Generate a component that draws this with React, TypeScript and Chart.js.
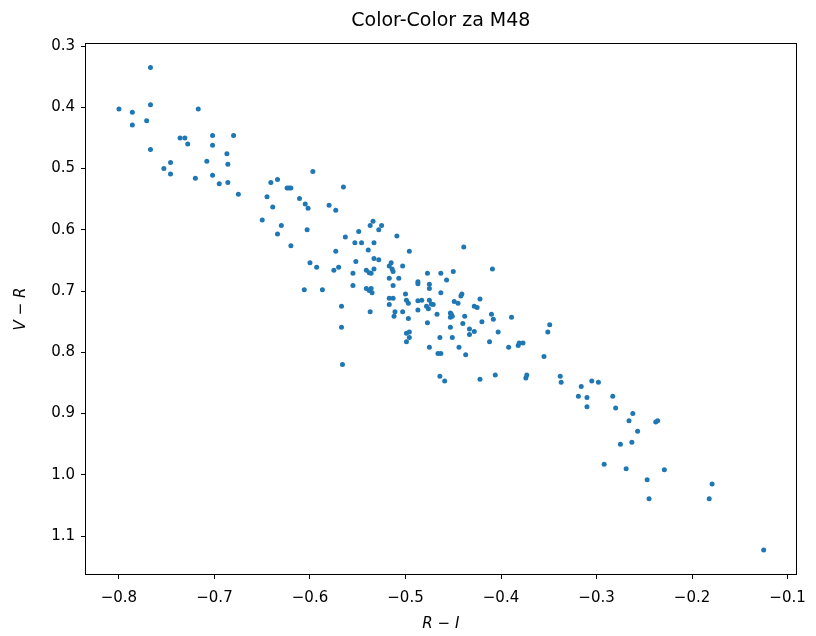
import { useEffect, useRef } from 'react';
import { Chart, registerables } from 'chart.js';

Chart.register(...registerables);

const R_MINUS_I = [
  -0.767, -0.800, -0.786, -0.767, -0.786, -0.771, -0.717, -0.736, -0.731, -0.728,
  -0.702, -0.680, -0.767, -0.702, -0.687, -0.708, -0.686, -0.746, -0.753, -0.746,
  -0.720, -0.702, -0.695, -0.686, -0.675, -0.645, -0.641, -0.634, -0.624, -0.622,
  -0.620, -0.597, -0.565, -0.639, -0.611, -0.605, -0.602, -0.580, -0.573, -0.650,
  -0.630, -0.634, -0.603, -0.620, -0.534, -0.537, -0.525, -0.528, -0.549, -0.509,
  -0.563, -0.553, -0.546, -0.533, -0.539, -0.573, -0.496, -0.533, -0.528, -0.600,
  -0.593, -0.552, -0.570, -0.575, -0.541, -0.538, -0.533, -0.536, -0.515, -0.517,
  -0.514, -0.513, -0.503, -0.555, -0.517, -0.507, -0.487, -0.487, -0.555, -0.513,
  -0.541, -0.538, -0.536, -0.535, -0.606, -0.587, -0.500, -0.517, -0.513, -0.499,
  -0.497, -0.439, -0.477, -0.463, -0.450, -0.457, -0.475, -0.475, -0.409, -0.463,
  -0.517, -0.503, -0.511, -0.512, -0.497, -0.567, -0.537, -0.487, -0.483, -0.487,
  -0.475, -0.473, -0.478, -0.476, -0.471, -0.467, -0.477, -0.499, -0.496, -0.496,
  -0.499, -0.567, -0.566, -0.453, -0.452, -0.453, -0.451, -0.449, -0.445, -0.442,
  -0.441, -0.422, -0.428, -0.425, -0.438, -0.410, -0.408, -0.420, -0.440, -0.453,
  -0.433, -0.428, -0.433, -0.403, -0.464, -0.451, -0.412, -0.475, -0.444, -0.466,
  -0.463, -0.437, -0.464, -0.459, -0.422, -0.406, -0.389, -0.392, -0.382, -0.381,
  -0.377, -0.349, -0.351, -0.355, -0.373, -0.374, -0.338, -0.337, -0.316, -0.305,
  -0.298, -0.319, -0.310, -0.283, -0.310, -0.280, -0.262, -0.266, -0.257, -0.275,
  -0.263, -0.238, -0.236, -0.292, -0.269, -0.229, -0.247, -0.245, -0.179, -0.182,
  -0.125,
];

const V_MINUS_R = [
  0.335, 0.403, 0.408, 0.396, 0.429, 0.422, 0.403, 0.450, 0.450, 0.460,
  0.446, 0.446, 0.469, 0.462, 0.476, 0.488, 0.493, 0.490, 0.500, 0.509,
  0.516, 0.511, 0.525, 0.523, 0.542, 0.546, 0.523, 0.518, 0.532, 0.532,
  0.532, 0.505, 0.530, 0.563, 0.549, 0.558, 0.565, 0.560, 0.568, 0.584,
  0.593, 0.607, 0.600, 0.626, 0.586, 0.593, 0.593, 0.600, 0.603, 0.610,
  0.612, 0.621, 0.621, 0.621, 0.633, 0.635, 0.635, 0.647, 0.649, 0.654,
  0.661, 0.652, 0.661, 0.666, 0.666, 0.670, 0.664, 0.671, 0.654, 0.659,
  0.664, 0.668, 0.659, 0.671, 0.679, 0.679, 0.685, 0.688, 0.691, 0.691,
  0.696, 0.699, 0.696, 0.703, 0.698, 0.698, 0.705, 0.712, 0.712, 0.715,
  0.720, 0.628, 0.671, 0.671, 0.668, 0.682, 0.689, 0.696, 0.664, 0.703,
  0.722, 0.734, 0.734, 0.741, 0.745, 0.725, 0.734, 0.716, 0.715, 0.731,
  0.715, 0.721, 0.725, 0.729, 0.722, 0.738, 0.752, 0.769, 0.767, 0.776,
  0.783, 0.759, 0.820, 0.736, 0.738, 0.743, 0.741, 0.717, 0.720, 0.708,
  0.705, 0.713, 0.725, 0.727, 0.741, 0.738, 0.746, 0.750, 0.753, 0.759,
  0.762, 0.766, 0.771, 0.767, 0.776, 0.776, 0.783, 0.792, 0.792, 0.802,
  0.802, 0.804, 0.839, 0.847, 0.844, 0.837, 0.743, 0.792, 0.789, 0.785,
  0.785, 0.755, 0.767, 0.807, 0.837, 0.842, 0.839, 0.849, 0.856, 0.847,
  0.849, 0.872, 0.874, 0.872, 0.889, 0.891, 0.900, 0.912, 0.929, 0.950,
  0.947, 0.914, 0.912, 0.983, 0.990, 0.992, 1.008, 1.039, 1.015, 1.039,
  1.123,
];

const X_TICKS = [-0.8, -0.7, -0.6, -0.5, -0.4, -0.3, -0.2, -0.1];
const Y_TICKS = [0.3, 0.4, 0.5, 0.6, 0.7, 0.8, 0.9, 1.0, 1.1];

const TITLE = 'Color-Color za M48';
const X_LABEL = 'R − I';
const Y_LABEL = 'V − R';

const FONT = "'DejaVu Sans', sans-serif";

const fmt = (v: number) => (v < 0 ? '−' : '') + Math.abs(v).toFixed(1);

const frame = {
  id: 'frame',
  afterDraw(chart: any) {
    const { ctx, chartArea } = chart;
    ctx.save();
    ctx.strokeStyle = '#000';
    ctx.lineWidth = 1;
    ctx.strokeRect(
      Math.round(chartArea.left) - 0.5,
      Math.round(chartArea.top) - 0.5,
      Math.round(chartArea.right - chartArea.left) + 1,
      Math.round(chartArea.bottom - chartArea.top) + 1
    );
    ctx.restore();
  },
};

export default function App() {
  const ref = useRef<HTMLCanvasElement | null>(null);

  useEffect(() => {
    document.body.style.margin = '0';
    const canvas = ref.current;
    if (!canvas) return;
    const points = R_MINUS_I.map((x, i) => ({ x, y: V_MINUS_R[i] }));
    const chart = new Chart(canvas, {
      type: 'scatter',
      data: {
        datasets: [
          {
            data: points,
            backgroundColor: '#1f77b4',
            borderWidth: 0,
            pointRadius: 2.5,
            pointHoverRadius: 2.5,
          },
        ],
      },
      options: {
        animation: false,
        responsive: false,
        devicePixelRatio: 1,
        layout: { padding: { left: 0, right: 19, top: 0, bottom: 0 } },
        plugins: {
          legend: { display: false },
          tooltip: { enabled: false },
          title: {
            display: true,
            text: TITLE,
            fullSize: false,
            color: '#000',
            font: { family: FONT, size: 19, weight: 'normal' },
            padding: { top: 10, bottom: 11.2 },
          },
        },
        scales: {
          x: {
            type: 'linear',
            min: -0.8345,
            max: -0.0915,
            afterFit: (s: any) => {
              s.height = 62;
            },
            afterBuildTicks: (s: any) => {
              s.ticks = X_TICKS.map((v) => ({ value: v }));
            },
            ticks: {
              color: '#000',
              font: { family: FONT, size: 15 },
              padding: 10,
              autoSkip: false,
              maxRotation: 0,
              callback: (v: any) => fmt(Number(v)),
            },
            grid: {
              drawOnChartArea: false,
              drawTicks: true,
              tickLength: 5,
              tickColor: '#000',
              tickWidth: 1,
            },
            border: { display: false },
            title: {
              display: true,
              text: X_LABEL,
              color: '#000',
              font: { family: FONT, size: 15, style: 'italic' },
              padding: { top: 0, bottom: 3 },
            },
          },
          y: {
            type: 'linear',
            reverse: true,
            min: 0.2967,
            max: 1.162,
            afterFit: (s: any) => {
              s.width = 86;
            },
            afterBuildTicks: (s: any) => {
              s.ticks = Y_TICKS.map((v) => ({ value: v }));
            },
            ticks: {
              color: '#000',
              font: { family: FONT, size: 15 },
              padding: 6,
              autoSkip: false,
              callback: (v: any) => fmt(Number(v)),
            },
            grid: {
              drawOnChartArea: false,
              drawTicks: true,
              tickLength: 5,
              tickColor: '#000',
              tickWidth: 1,
            },
            border: { display: false },
            title: {
              display: true,
              text: Y_LABEL,
              color: '#000',
              font: { family: FONT, size: 15, style: 'italic' },
              padding: { top: 12, bottom: 0 },
            },
          },
        },
      },
      plugins: [frame],
    });
    return () => chart.destroy();
  }, []);

  return (
    <div style={{ position: 'absolute', left: 0, top: 0, width: 816, height: 636, background: '#fff' }}>
      <canvas ref={ref} width={816} height={636} style={{ width: 816, height: 636, display: 'block' }} />
    </div>
  );
}
